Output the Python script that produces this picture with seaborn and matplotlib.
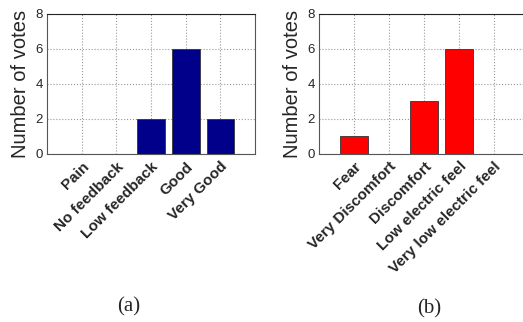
import pandas as pd
import seaborn as sns
import matplotlib.pyplot as plt

sns.set_style("whitegrid")
plt.rcParams["font.family"] = ["Liberation Sans", "DejaVu Sans"]

# (a) feedback
feedback_labels = ["Pain", "No feedback", "Low feedback", "Good", "Very Good"]
feedback_votes = [0, 0, 2, 6, 2]

# (b) sensation
feel_labels = ["Fear", "Very Discomfort", "Discomfort", "Low electric feel", "Very low electric feel"]
feel_votes = [1, 0, 3, 6, 0]

yticks = [0, 2, 4, 6, 8]

fig = plt.figure(figsize=(5.23, 3.22), dpi=100)
ax1 = fig.add_axes([0.0899, 0.522, 0.398, 0.435])
ax2 = fig.add_axes([0.610, 0.522, 0.4015, 0.435])


def draw(ax, labels, votes, color):
    df = pd.DataFrame({"label": labels, "votes": votes})
    # shift categories so they sit at 1..5 like the original
    df["pos"] = range(1, len(labels) + 1)
    sns.barplot(data=df, x="pos", y="votes", color=color, width=0.8,
                edgecolor="#333333", linewidth=0.6, saturation=1,
                native_scale=True, ax=ax)
    ax.set_xlim(0, 6)
    ax.set_ylim(0, 8)
    ax.set_yticks(yticks)
    ax.set_xticks(df["pos"])
    ax.set_xticklabels(labels, rotation=45, ha="right", rotation_mode="anchor",
                       fontweight="bold", fontsize=11)
    ax.tick_params(axis="y", labelsize=9.5, pad=3, length=0)
    ax.tick_params(axis="x", pad=4, length=0)
    ax.set_xlabel("")
    ax.set_ylabel("Number of votes", fontsize=14.5, labelpad=4)
    ax.grid(True, linestyle=":", color="#999999", linewidth=0.8)
    ax.set_axisbelow(True)
    for s in ax.spines.values():
        s.set_visible(True)
        s.set_color("#555555")
        s.set_linewidth(0.8)
    ax.spines["top"].set_color("#222222")


draw(ax1, feedback_labels, feedback_votes, "#00008B")
draw(ax2, feel_labels, feel_votes, "#FF0000")

fig.text(129 / 523, 1 - 307 / 322, "(a)", family="Liberation Serif", fontsize=15,
         ha="center", va="center")
fig.text(429 / 523, 1 - 309 / 322, "(b)", family="Liberation Serif", fontsize=15,
         ha="center", va="center")

fig.savefig("out.png", dpi=100)
